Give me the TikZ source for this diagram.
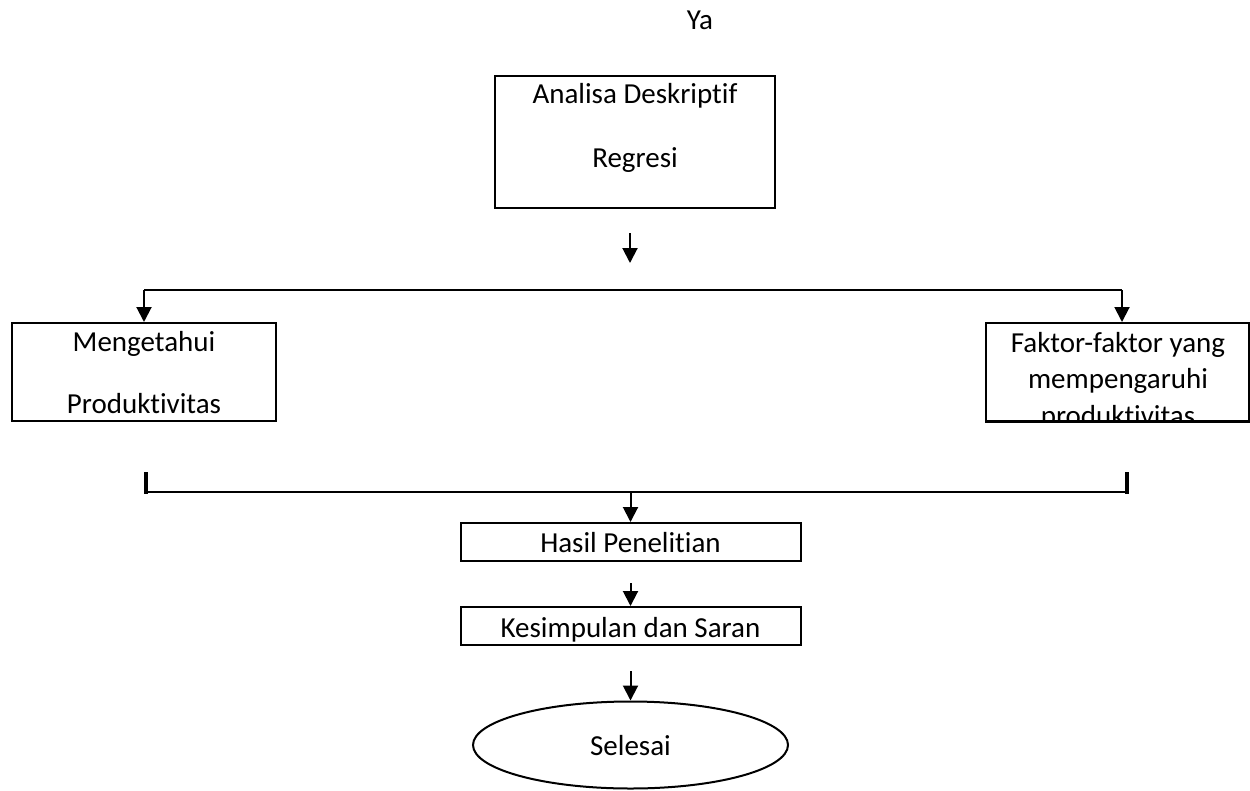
\documentclass[tikz,border=0pt]{standalone}
\usepackage{fontspec}
\setmainfont{Carlito}[Ligatures={NoCommon,NoRequired,NoContextual},Contextuals=NoAlternate]
\usetikzlibrary{arrows.meta,shapes.geometric}
% keep t and i as separate glyphs
\newcommand{\tsep}{t\kern0pt }
\begin{document}
\begin{tikzpicture}[x=1pt,y=-1pt,
  box/.style={draw,line width=2pt,rectangle,inner sep=0pt},
  oval/.style={draw,line width=2pt,ellipse,inner sep=0pt},
  txt/.style={font=\fontsize{29}{35}\selectfont,inner sep=0pt,anchor=base},
  arr/.style={line width=2pt,-{Triangle[width=15pt,length=15pt]}},
  link/.style={line width=2pt},
  tick/.style={line width=3.2pt}]
\useasboundingbox (0,0) rectangle (1250,790);

% label above the analysis box
\node[txt] (ya) at (700,29) {Ya};

% analysis box
\node[box,minimum width=280pt,minimum height=132pt] (ad) at (635,142) {};
\node[txt] (ad1) at (635,103) {Analisa Deskrip\tsep if};
\node[txt] (ad2) at (635,167) {Regresi};

% left result box
\node[box,minimum width=264pt,minimum height=98pt] (mp) at (144,372) {};
\node[txt] (mp1) at (144,351) {Mengetahui};
\node[txt] (mp2) at (144,413) {Produk\tsep ivitas};

% right result box, its text cut off at the bottom border
\node[box,minimum width=263pt,minimum height=98pt] (fk) at (1117.5,372) {};
\begin{scope}
  \clip (fk.south west) rectangle (fk.north east);
  \node[txt] (fk1) at (1118,352) {Faktor-faktor yang};
  \node[txt] (fk2) at (1118,388) {mempengaruhi};
  \node[txt] (fk3) at (1118,425) {produk\tsep ivitas};
\end{scope}
\draw[line width=2pt] (fk.south west) -- (fk.south east);

% lower chain
\node[box,minimum width=340pt,minimum height=38pt] (hp) at (630.5,542) {};
\node[txt] (hp1) at (630.5,552) {Hasil Peneli\tsep ian};
\node[box,minimum width=340pt,minimum height=38pt] (ks) at (630.5,626) {};
\node[txt] (ks1) at (630.5,637) {Kesimpulan dan Saran};
\node[oval,minimum width=315pt,minimum height=87pt] (sl) at (630.5,745) {};
\node[txt] (sl1) at (630.5,755) {Selesai};

% split below the analysis box
\coordinate (a0) at (630,233);
\coordinate (a1) at (630,263);
\draw[arr] (a0) -- (a1);
\coordinate (sL) at (144,290);
\coordinate (sR) at (1122,290);
\draw[link] (sL) -- (sR);
\draw[arr] (sL) -- (mp.north);
\draw[arr] (sR) -- (sR |- fk.north);

% join above the results
\coordinate (jL) at (146,492);
\coordinate (jR) at (1127,492);
\coordinate (jM) at (630.5,492);
\draw[link] (jL) -- (jR);
\draw[tick] (jL) ++(0,1.5) -- ++(0,-22);
\draw[tick] (jR) ++(0,1.5) -- ++(0,-22);
\draw[arr] (jM) -- (hp.north);

% arrows down to the end
\coordinate (b0) at (630.5,583);
\draw[arr] (b0) -- (ks.north);
\coordinate (c0) at (630.5,671);
\draw[arr] (c0) -- (sl.north);
\end{tikzpicture}
\end{document}
